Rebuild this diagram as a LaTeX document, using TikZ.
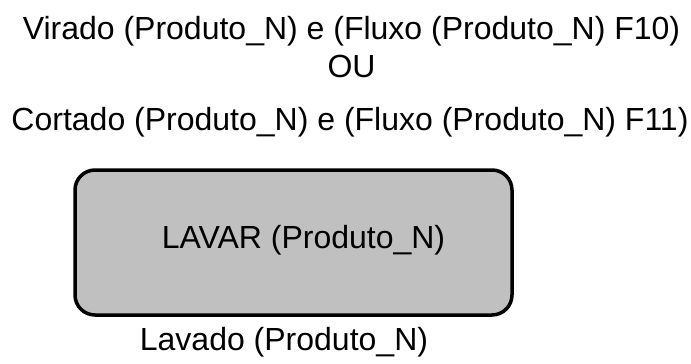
\documentclass[tikz,border=0pt]{standalone}
\usepackage{fontspec}
\setmainfont{Liberation Sans}
\usetikzlibrary{positioning}

\definecolor{boxgray}{HTML}{C0C0C0}

\begin{document}
\begin{tikzpicture}[
  x=1pt, y=-1pt,
  font=\fontsize{32}{36}\selectfont,
  txt/.style={anchor=base, inner sep=0pt},
  activity/.style={rectangle, draw=black, line width=3.5pt, rounded corners=20pt, fill=boxgray, minimum width=437pt, minimum height=145pt, inner sep=0pt}
]
\useasboundingbox (0,0) rectangle (691,364);

% pre-conditions
\node[txt] (virado) at (351.5,39) {Virado (Produto\_N) e (Fluxo (Produto\_N) F10)};
\node[txt] (ou) at (351.5,77) {OU};
\node[txt] (cortado) at (350,130) {Cortado (Produto\_N) e (Fluxo (Produto\_N) F11)};

% activity
\node[activity] (lavar) at (293.5,242.5) {};
\node[txt] (lavartxt) at (303.5,248) {LAVAR (Produto\_N)};

% post-condition
\node[txt] (lavado) at (284,350) {Lavado (Produto\_N)};

\end{tikzpicture}
\end{document}
